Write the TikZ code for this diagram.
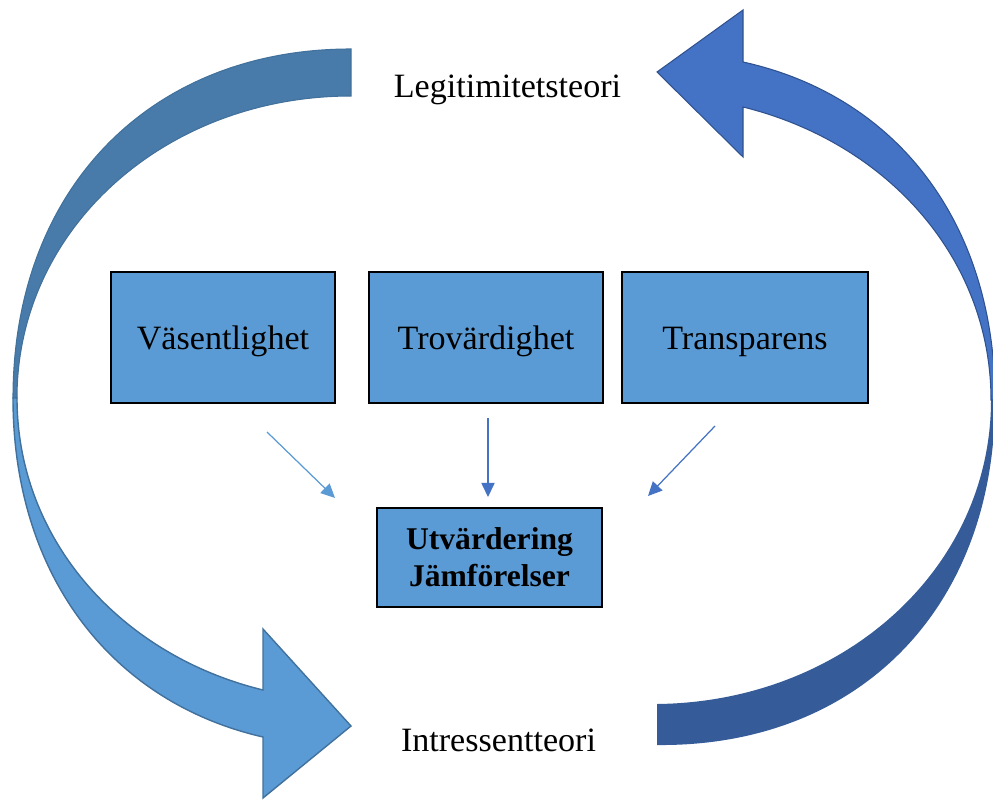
\documentclass[tikz,border=0pt]{standalone}
\usepackage{fontspec}
\setmainfont{Liberation Serif}
\usetikzlibrary{arrows.meta}

\definecolor{boxblue}{HTML}{5B9BD5}
\definecolor{boxline}{HTML}{41719C}
\definecolor{steelarc}{HTML}{487BA9}
\definecolor{royalarc}{HTML}{4472C4}
\definecolor{royalline}{HTML}{2F528F}
\definecolor{navyarc}{HTML}{355C99}

\begin{document}
\begin{tikzpicture}[x=0.02cm, y=-0.02cm,
  factor/.style={draw=black, line width=1.1pt, fill=boxblue, inner sep=0pt,
    minimum height=2.62cm, font=\fontsize{19.4}{23}\selectfont},
  theory/.style={anchor=base, font=\fontsize{19.4}{23}\selectfont},
  feed/.style={line width=0.7pt, -{Triangle[length=8pt,width=7.5pt]}}]

% Page frame (pixel units, y pointing down)
\fill[white] (0,0) rectangle (993,800);
\useasboundingbox (0,0) rectangle (993,800);

% Left loop: upper half, thick end at the top
\filldraw[fill=steelarc, draw=boxline, line width=0.6pt]
  (351,49) .. controls (151,49) and (13,188) .. (13,398)
  -- (17,398) .. controls (17,228) and (166,96) .. (351,96) -- cycle;

% Left loop: lower half with its head
\filldraw[fill=boxblue, draw=boxline, line width=0.8pt]
  (13,398) .. controls (13,575.4) and (111.5,702.2) .. (263,737)
  -- (263,798) -- (351,726) -- (263,629) -- (263,690)
  .. controls (120.9,655.4) and (17,539.9) .. (17,398) -- cycle;

% Right loop: lower half, thick end at the bottom
\fill[navyarc]
  (657,745) .. controls (857,747) and (995,610) .. (995,400)
  -- (991,400) .. controls (991,570) and (842,702) .. (657,704) -- cycle;

% Right loop: upper half with its head
\filldraw[fill=royalarc, draw=royalline, line width=0.6pt]
  (995,400) .. controls (995,222.6) and (896.5,95.8) .. (743,62)
  -- (743,10) -- (657,72) -- (743,157) -- (743,107)
  .. controls (887.1,142.6) and (991,258.1) .. (991,400) -- cycle;

% Theory labels
\node[theory] (legit) at (507.5,98) {Legitimitetsteori};
\node[theory] (intr) at (498.5,751) {Intressentteori};

% The three factors (text sits a little low in the box)
\node[factor, text height=14.2pt, text depth=0pt, minimum width=4.48cm] (vas) at (223,337.5) {Väsentlighet};
\node[factor, text height=14.2pt, text depth=0pt, minimum width=4.68cm] (tro) at (486,337.5) {Trovärdighet};
\node[factor, text height=14.2pt, text depth=0pt, minimum width=4.92cm] (tra) at (745,337.5) {Transparens};

% Result box
\node[factor, minimum width=4.5cm, minimum height=1.98cm, align=center,
  font=\fontsize{18}{21}\selectfont\bfseries] (utv) at (489.5,557.5)
  {Utvärdering\\Jämförelser};

% Short arrows towards the result
\coordinate (vasout) at (267,432);
\coordinate (vasin) at (335,498);
\coordinate (troout) at (488,418);
\coordinate (troin) at (488,497);
\coordinate (traout) at (715,426);
\coordinate (train) at (648,496);
\draw[feed, boxblue] (vasout) -- (vasin);
\draw[feed, royalarc] (troout) -- (troin);
\draw[feed, royalarc] (traout) -- (train);
\end{tikzpicture}
\end{document}
